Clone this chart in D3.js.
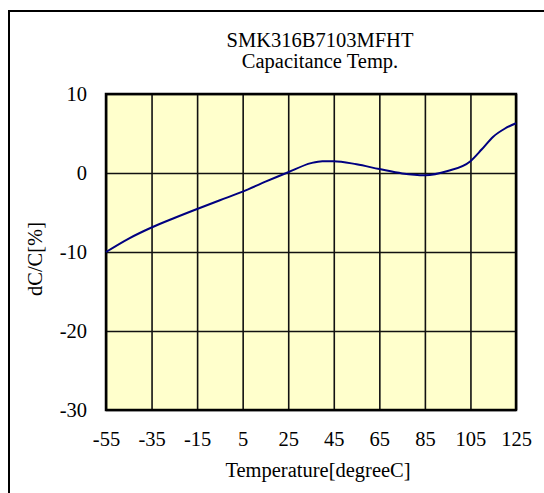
<!DOCTYPE html>
<html>
<head>
    <meta charset="utf-8">
    <title>Capacitance Temp.</title>
    <script src="https://d3js.org/d3.v7.min.js"></script>
    <style>
        body { margin: 0; background: #ffffff; }
        svg text { font-family: "Liberation Serif", "Times New Roman", serif; fill: #000; }
    </style>
</head>
<body>
<script>
    // chart data
    const temps = [-55, -45, -35, -25, -15, -5, 5, 15, 25, 35, 40, 45, 55, 65, 75, 85, 95, 105, 110, 115, 120, 125];
    const dcc = [-10, -8.3, -6.9, -5.7, -4.56, -3.45, -2.36, -1.1, 0.1, 1.25, 1.5, 1.5, 1.1, 0.5, -0.05, -0.28, 0.25, 1.5, 3.0, 4.6, 5.6, 6.3];
    const xTicks = [-55, -35, -15, 5, 25, 45, 65, 85, 105, 125];
    const yTicks = [-30, -20, -10, 0, 10];
    const titleLines = ["SMK316B7103MFHT", "Capacitance Temp."];

    const width = 544, height = 493;
    const plot = { left: 106, top: 94, right: 516, bottom: 410 };
    const fontSize = 20.5;

    const svg = d3.select("body").append("svg")
        .attr("width", width)
        .attr("height", height);

    // outer frame (only top and left visible)
    svg.append("path")
        .attr("d", "M9,493 V11 H544")
        .attr("fill", "none")
        .attr("stroke", "#000")
        .attr("stroke-width", 2);

    const x = d3.scaleLinear().domain([-55, 125]).range([plot.left, plot.right]);
    const y = d3.scaleLinear().domain([-30, 10]).range([plot.bottom, plot.top]);

    // plot background
    svg.append("rect")
        .attr("x", plot.left)
        .attr("y", plot.top)
        .attr("width", plot.right - plot.left)
        .attr("height", plot.bottom - plot.top)
        .attr("fill", "#ffffcc");

    // grid lines
    svg.append("g")
        .attr("transform", `translate(0,${plot.bottom})`)
        .call(d3.axisBottom(x).tickValues(xTicks).tickSize(-(plot.bottom - plot.top)).tickFormat(""))
        .call(g => g.select(".domain").remove())
        .call(g => g.selectAll("line").attr("stroke", "#111").attr("stroke-width", 1.6));

    svg.append("g")
        .attr("transform", `translate(${plot.left},0)`)
        .call(d3.axisLeft(y).tickValues(yTicks).tickSize(-(plot.right - plot.left)).tickFormat(""))
        .call(g => g.select(".domain").remove())
        .call(g => g.selectAll("line").attr("stroke", "#111").attr("stroke-width", 1.6));

    // plot border
    svg.append("rect")
        .attr("x", plot.left)
        .attr("y", plot.top)
        .attr("width", plot.right - plot.left)
        .attr("height", plot.bottom - plot.top)
        .attr("fill", "none")
        .attr("stroke", "#000")
        .attr("stroke-width", 2.5);

    // tick labels (plain hyphen for negatives)
    svg.append("g")
        .attr("transform", `translate(0,${plot.bottom})`)
        .call(d3.axisBottom(x).tickValues(xTicks).tickSize(0).tickPadding(21).tickFormat(d => String(d)))
        .call(g => g.select(".domain").remove())
        .call(g => g.selectAll("text").attr("font-size", fontSize).attr("font-family", "Liberation Serif"));

    svg.append("g")
        .attr("transform", `translate(${plot.left},0)`)
        .call(d3.axisLeft(y).tickValues(yTicks).tickSize(0).tickPadding(19).tickFormat(d => String(d)))
        .call(g => g.select(".domain").remove())
        .call(g => g.selectAll("text").attr("font-size", fontSize).attr("font-family", "Liberation Serif"));

    // curve
    const line = d3.line()
        .x((d, i) => x(temps[i]))
        .y(d => y(d))
        .curve(d3.curveMonotoneX);

    svg.append("path")
        .datum(dcc)
        .attr("d", line)
        .attr("fill", "none")
        .attr("stroke", "#000080")
        .attr("stroke-width", 2);

    // titles
    svg.selectAll(".title")
        .data(titleLines)
        .enter()
        .append("text")
        .attr("class", "title")
        .attr("x", 320)
        .attr("y", (d, i) => 47 + i * 21)
        .attr("text-anchor", "middle")
        .attr("font-size", fontSize)
        .text(d => d);

    svg.append("text")
        .attr("x", 318)
        .attr("y", 477)
        .attr("text-anchor", "middle")
        .attr("font-size", fontSize)
        .text("Temperature[degreeC]");

    svg.append("text")
        .attr("transform", "translate(42,259) rotate(-90)")
        .attr("text-anchor", "middle")
        .attr("font-size", fontSize)
        .text("dC/C[%]");
</script>
</body>
</html>
